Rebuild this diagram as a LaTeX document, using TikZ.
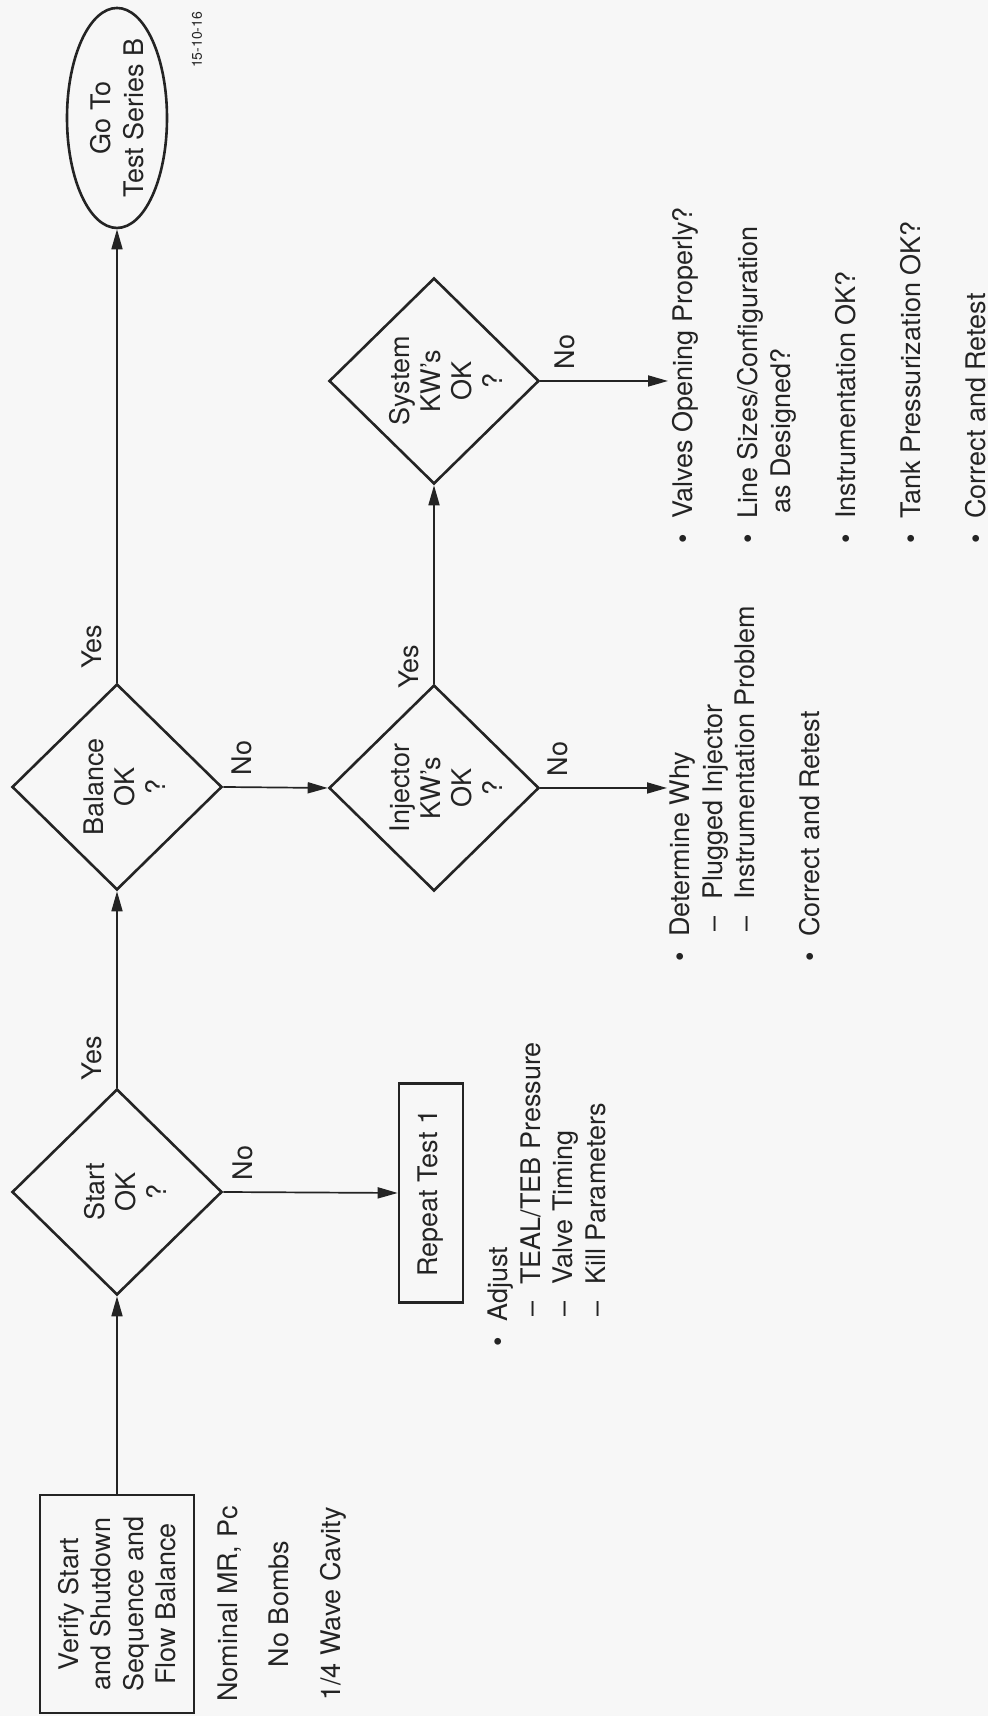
\documentclass[tikz,border=0pt]{standalone}
\usepackage{fontspec}
\setmainfont{TeX Gyre Heros}
\usetikzlibrary{positioning, arrows.meta, shapes.geometric}
\definecolor{paper}{HTML}{F7F7F7}
\definecolor{ink}{HTML}{242424}
\newcommand{\bul}{\makebox[12.5pt][l]{\textbullet}}
\newcommand{\dsh}{\hspace*{15pt}\makebox[16pt][l]{--}}

\begin{document}
\begin{tikzpicture}[
        x=0.5pt, y=0.5pt, rotate=90, transform shape,
        every node/.style={text=ink, font=\fontsize{13.5}{16.25}\selectfont},
        box/.style={rectangle, draw=ink, line width=1.3pt, align=center, inner sep=0pt},
        dec/.style={diamond, draw=ink, line width=1.3pt, inner sep=0pt,
                    minimum width=103pt, minimum height=105pt},
        dectext/.style={align=center, inner sep=0pt, font=\fontsize{13.5}{15.5}\selectfont},
        lbl/.style={inner sep=0pt},
        note/.style={align=left, inner sep=0pt, anchor=west},
        arr/.style={-{Triangle[length=10pt, width=5.5pt]}, draw=ink, line width=0.85pt}
      ]
        \path[use as bounding box, fill=paper] (0,0) rectangle (1716,-988);

        % main line
        \node[box, minimum width=109pt, minimum height=77pt] (verify) at (112,-117)
            {Verify Start\\and Shutdown\\Sequence and\\Flow Balance};
        \node[dec, label={[dectext, yshift=-4pt]center:Start\\OK\\?}] (start) at (524,-117) {};
        \node[dec, label={[dectext, yshift=-4pt]center:Balance\\OK\\?}] (balance) at (929,-117) {};
        \node[ellipse, draw=ink, line width=1.3pt, align=center, inner sep=-2pt,
              minimum width=110pt, minimum height=50pt] (goto) at (1598,-117)
            {Go To\\Test Series B};

        % test conditions
        \node[lbl, anchor=base] (nominal) at (112,-237) {Nominal MR, Pc};
        \node[lbl, anchor=base] (nobombs) at (112,-288) {No Bombs};
        \node[lbl, anchor=base] (cavity) at (112,-340) {1/4 Wave Cavity};

        % second row
        \node[box, minimum width=109.5pt, minimum height=32pt] (repeat) at (523,-431) {Repeat Test 1};
        \node[dec, label={[dectext, yshift=-6pt]center:Injector\\KW's\\OK\\?}] (injector) at (928,-434) {};
        \node[dec, label={[dectext, yshift=-6pt]center:System\\KW's\\OK\\?}] (system) at (1335,-434) {};
        \coordinate (whyend) at (928,-667);
        \coordinate (checkend) at (1335,-668);

        % notes
        \node[note] (adjust) at (369,-547)
            {\bul Adjust\\\dsh TEAL/TEB Pressure\\\dsh Valve Timing\\\dsh Kill Parameters};
        \node[note] (why) at (754,-745)
            {\bul Determine Why\\\dsh Plugged Injector\\\dsh Instrumentation Problem\\[16.25pt]
             \bul Correct and Retest};
        \node[note] (checks) at (1172,-829)
            {\bul Valves Opening Properly?\\[16.25pt]
             \bul Line Sizes/Configuration\\\hspace*{15pt}as Designed?\\[16.25pt]
             \bul Instrumentation OK?\\[16.25pt]
             \bul Tank Pressurization OK?\\[16.25pt]
             \bul Correct and Retest};
        \node[font=\fontsize{7}{8}\selectfont] (fignum) at (1676,-197) {15-10-16};

        \draw[arr] (verify) -- (start);
        \draw[arr] (start) -- node[lbl, pos=0.15, above=7pt] {Yes} (balance);
        \draw[arr] (balance) -- node[lbl, pos=0.079, above=7pt] {Yes} (goto);
        \draw[arr] (start.south) -- node[lbl, pos=0.113, right=5.5pt] {No} (repeat.north);
        \draw[arr] (balance.south) -- node[lbl, pos=0.18, right=5.5pt] {No} (injector.north);
        \draw[arr] (injector.east) -- node[lbl, pos=0.085, above=7pt] {Yes} (system.west);
        \draw[arr] (injector.south) -- node[lbl, pos=0.14, right=5.5pt] {No} (whyend);
        \draw[arr] (system.south) -- node[lbl, pos=0.19, right=5.5pt] {No} (checkend);
      \end{tikzpicture}
\end{document}
